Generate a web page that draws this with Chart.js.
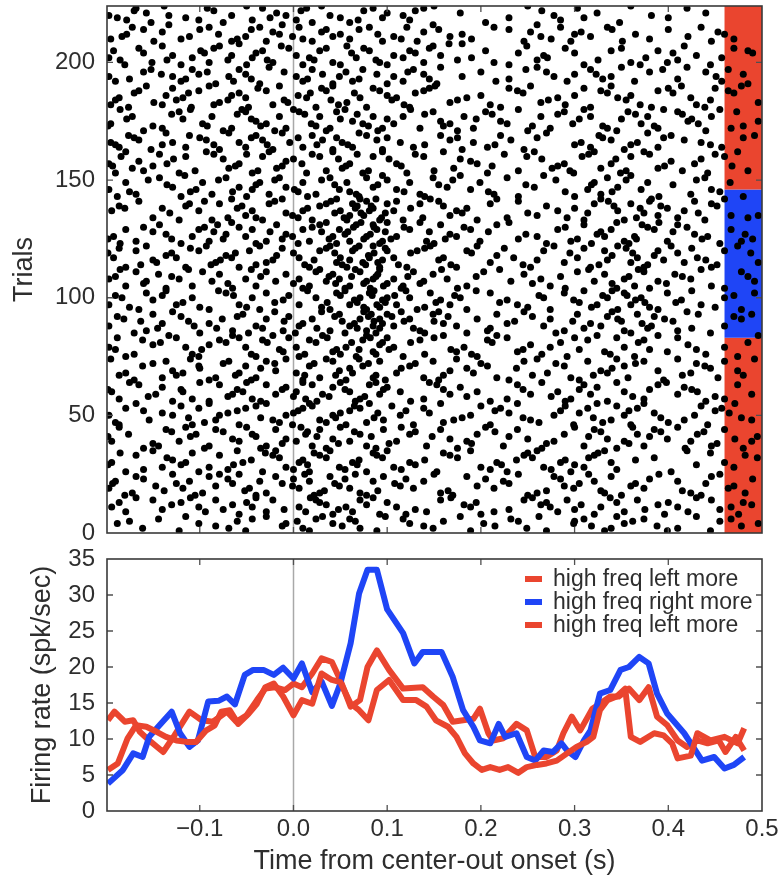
<!DOCTYPE html>
<html>
<head>
<meta charset="utf-8">
<title>Raster and firing rate</title>
<script src="https://cdn.jsdelivr.net/npm/chart.js@4.4.1/dist/chart.umd.min.js"></script>
<style>
  body { margin: 0; background: #fff; }
  #wrap { position: relative; width: 781px; height: 880px; }
  #rasterChart { position: absolute; left: 0; top: 0; }
  #rateChart { position: absolute; left: 0; top: 545px; }
</style>
</head>
<body>
<div id="wrap">
  <canvas id="rasterChart" width="781" height="545"></canvas>
  <canvas id="rateChart" width="781" height="335"></canvas>
</div>
<script>
// time window (s) and axis ticks
const xMin = -0.199;
const xMax = 0.5;
const timeTicks = [-0.1, 0.0, 0.1, 0.2, 0.3, 0.4, 0.5];
const timeTickLabels = ['\u22120.1', '0.0', '0.1', '0.2', '0.3', '0.4', '0.5'];
const trialMax = 224;
const trialTicks = [0, 50, 100, 150, 200];
const rateMax = 35;
const rateTicks = [0, 5, 10, 15, 20, 25, 30, 35];

// trial blocks sorted by condition (trial bounds) and the side with more high freq
const blockBounds = [0, 83, 146, 224];
const blockSide = ['left', 'right', 'left'];
const stripStart = 0.46;

// spike times (s), one row per trial: row i is trial i + 1
const spikeTimes = [
  [-0.122, -0.051, 0.017, 0.089, 0.189, 0.270, 0.332, 0.399, 0.445],
  [-0.161, -0.069, 0.010, 0.071, 0.149, 0.249, 0.339, 0.410],
  [-0.083, -0.012, 0.052, 0.139, 0.215, 0.318, 0.388, 0.478],
  [-0.188, -0.101, -0.008, 0.042, 0.124, 0.203, 0.299, 0.353, 0.496],
  [-0.175, -0.060, 0.004, 0.066, 0.160, 0.240, 0.300, 0.362, 0.455],
  [-0.144, -0.044, 0.024, 0.060, 0.117, 0.232, 0.310, 0.374, 0.467],
  [-0.115, -0.029, 0.031, 0.098, 0.178, 0.262, 0.345, 0.430],
  [-0.058, 0.042, 0.092, 0.120, 0.200, 0.321, 0.396, 0.475],
  [-0.179, -0.094, -0.029, 0.013, 0.063, 0.142, 0.214, 0.282, 0.353, 0.421],
  [-0.140, -0.075, -0.010, 0.048, 0.130, 0.230, 0.300, 0.375, 0.455],
  [-0.194, -0.101, -0.044, 0.006, 0.056, 0.110, 0.189, 0.274, 0.328, 0.410, 0.467],
  [-0.130, -0.065, 0.035, 0.078, 0.182, 0.264, 0.307, 0.389, 0.489],
  [-0.186, -0.120, -0.050, 0.028, 0.100, 0.195, 0.270, 0.345, 0.400, 0.480],
  [-0.150, -0.083, -0.022, 0.024, 0.071, 0.157, 0.246, 0.292, 0.367, 0.446],
  [-0.168, -0.110, -0.040, 0.018, 0.085, 0.168, 0.255, 0.338, 0.430],
  [-0.180, -0.105, -0.040, 0.022, 0.078, 0.170, 0.250, 0.350, 0.435],
  [-0.172, -0.097, -0.029, 0.028, 0.071, 0.157, 0.260, 0.332, 0.424, 0.482],
  [-0.138, -0.052, 0.033, 0.090, 0.165, 0.270, 0.328, 0.415],
  [-0.197, -0.118, -0.047, 0.006, 0.060, 0.128, 0.214, 0.299, 0.374, 0.464],
  [-0.147, -0.083, -0.001, 0.049, 0.114, 0.196, 0.289, 0.360, 0.470],
  [-0.193, -0.125, -0.065, -0.012, 0.044, 0.108, 0.230, 0.305, 0.365, 0.440],
  [-0.190, -0.111, -0.036, 0.017, 0.085, 0.139, 0.224, 0.321, 0.410],
  [-0.160, -0.070, 0.000, 0.055, 0.120, 0.205, 0.285, 0.380, 0.490],
  [-0.168, -0.090, -0.019, 0.039, 0.096, 0.185, 0.278, 0.339, 0.446],
  [-0.129, -0.079, -0.058, 0.012, 0.066, 0.150, 0.240, 0.315, 0.390, 0.455],
  [-0.179, -0.101, -0.033, 0.017, 0.078, 0.153, 0.228, 0.296, 0.403],
  [-0.160, -0.070, 0.000, 0.055, 0.115, 0.210, 0.275, 0.345],
  [-0.140, -0.090, -0.008, 0.049, 0.107, 0.200, 0.267, 0.310, 0.470],
  [-0.198, -0.120, -0.064, 0.015, 0.068, 0.130, 0.222, 0.300, 0.430],
  [-0.194, -0.115, -0.054, 0.006, 0.063, 0.124, 0.217, 0.285, 0.339, 0.460],
  [-0.129, -0.045, 0.010, 0.070, 0.140, 0.238, 0.290, 0.365],
  [-0.135, -0.015, 0.035, 0.095, 0.175, 0.255, 0.315, 0.385, 0.495],
  [-0.168, -0.079, -0.022, 0.028, 0.089, 0.167, 0.246, 0.321, 0.482],
  [-0.185, -0.108, -0.030, 0.022, 0.085, 0.160, 0.250, 0.325, 0.445],
  [-0.150, -0.060, -0.019, 0.039, 0.100, 0.189, 0.260, 0.332, 0.420],
  [-0.160, -0.095, -0.035, 0.035, 0.088, 0.175, 0.265, 0.345, 0.418, 0.480],
  [-0.144, -0.090, -0.029, 0.020, 0.078, 0.142, 0.224, 0.310, 0.374, 0.446],
  [-0.150, -0.012, 0.048, 0.102, 0.190, 0.270, 0.358, 0.452],
  [-0.194, -0.122, -0.058, 0.003, 0.060, 0.110, 0.185, 0.278, 0.353, 0.424, 0.489],
  [-0.065, -0.008, 0.042, 0.167, 0.250, 0.335, 0.399, 0.471],
  [-0.198, -0.110, -0.040, 0.025, 0.083, 0.148, 0.230, 0.315, 0.380, 0.495],
  [-0.176, -0.104, -0.044, 0.013, 0.071, 0.124, 0.196, 0.289, 0.367, 0.431],
  [-0.130, -0.075, 0.015, 0.065, 0.130, 0.215, 0.328, 0.392, 0.438],
  [-0.136, -0.083, -0.019, 0.028, 0.096, 0.157, 0.239, 0.321, 0.385, 0.460],
  [-0.186, -0.115, -0.050, 0.008, 0.050, 0.115, 0.205, 0.300, 0.362, 0.410],
  [-0.186, -0.108, -0.058, -0.001, 0.056, 0.128, 0.210, 0.299, 0.360, 0.442],
  [-0.190, -0.095, -0.015, 0.035, 0.078, 0.160, 0.262, 0.330, 0.400],
  [-0.154, -0.083, -0.022, 0.028, 0.096, 0.171, 0.253, 0.339, 0.417, 0.489],
  [-0.112, -0.035, 0.045, 0.086, 0.180, 0.245, 0.320, 0.392, 0.478],
  [-0.197, -0.129, -0.079, -0.008, 0.042, 0.114, 0.189, 0.278, 0.353, 0.428],
  [-0.140, -0.070, 0.000, 0.050, 0.090, 0.145, 0.230, 0.305, 0.385, 0.465],
  [-0.160, -0.060, 0.005, 0.060, 0.120, 0.215, 0.285, 0.358, 0.450],
  [-0.179, -0.101, -0.051, 0.010, 0.071, 0.139, 0.221, 0.314, 0.367, 0.457],
  [-0.120, -0.040, 0.020, 0.065, 0.105, 0.200, 0.290, 0.345, 0.435],
  [-0.168, -0.090, -0.029, 0.017, 0.081, 0.157, 0.239, 0.324, 0.374, 0.471],
  [-0.129, -0.090, -0.035, 0.025, 0.066, 0.125, 0.210, 0.290, 0.335, 0.440],
  [-0.186, -0.108, -0.044, 0.013, 0.071, 0.139, 0.228, 0.296, 0.374, 0.460],
  [-0.155, -0.070, 0.000, 0.038, 0.076, 0.185, 0.275, 0.362, 0.450],
  [-0.147, -0.065, -0.019, 0.031, 0.092, 0.167, 0.253, 0.317, 0.410, 0.489],
  [-0.194, -0.118, -0.054, 0.003, 0.060, 0.114, 0.196, 0.282, 0.353, 0.431],
  [-0.198, -0.120, -0.060, -0.012, 0.055, 0.096, 0.160, 0.245, 0.305, 0.380, 0.425],
  [-0.140, -0.008, 0.042, 0.100, 0.178, 0.324, 0.417],
  [-0.165, -0.079, -0.029, 0.020, 0.081, 0.153, 0.239, 0.310, 0.389, 0.474],
  [-0.175, -0.100, -0.050, 0.010, 0.050, 0.088, 0.145, 0.265, 0.345, 0.398],
  [-0.170, -0.090, -0.045, 0.010, 0.056, 0.098, 0.155, 0.230, 0.305, 0.395],
  [-0.140, -0.083, -0.040, 0.028, 0.085, 0.139, 0.217, 0.296, 0.357, 0.453],
  [-0.186, -0.125, -0.062, 0.012, 0.045, 0.088, 0.160, 0.255, 0.320, 0.415, 0.480],
  [-0.179, -0.118, -0.058, 0.003, 0.063, 0.110, 0.192, 0.271, 0.335, 0.424],
  [-0.129, -0.019, 0.049, 0.167, 0.328, 0.389, 0.474],
  [-0.100, -0.035, 0.060, 0.115, 0.185, 0.238, 0.340, 0.445],
  [-0.161, -0.101, -0.051, 0.017, 0.074, 0.124, 0.207, 0.289, 0.353, 0.439],
  [-0.150, -0.075, -0.020, 0.022, 0.080, 0.130, 0.200, 0.280, 0.365, 0.430],
  [-0.136, -0.069, -0.029, 0.042, 0.092, 0.149, 0.246, 0.314, 0.374, 0.460],
  [-0.195, -0.110, -0.008, 0.035, 0.070, 0.174, 0.260, 0.345, 0.410, 0.492],
  [-0.179, -0.101, -0.040, 0.006, 0.067, 0.117, 0.196, 0.292, 0.364, 0.474],
  [-0.170, -0.108, -0.045, 0.012, 0.050, 0.088, 0.140, 0.190, 0.265, 0.338, 0.440],
  [-0.011, 0.042, 0.085, 0.174, 0.239, 0.332, 0.399],
  [-0.190, -0.098, -0.015, 0.046, 0.070, 0.102, 0.168, 0.245, 0.305, 0.380, 0.430],
  [-0.197, -0.115, -0.051, 0.003, 0.056, 0.107, 0.182, 0.274, 0.353, 0.460],
  [-0.150, -0.090, 0.092, 0.253, 0.421],
  [-0.142, -0.072, -0.028, 0.024, 0.062, 0.095, 0.125, 0.212, 0.285, 0.368, 0.485],
  [-0.161, -0.079, -0.033, 0.017, 0.074, 0.135, 0.207, 0.314, 0.374],
  [-0.188, -0.125, -0.058, -0.005, 0.036, 0.082, 0.100, 0.150, 0.228, 0.300, 0.345, 0.410],
  [-0.133, -0.065, -0.022, 0.031, 0.078, 0.160, 0.217, 0.324, 0.389, 0.496],
  [-0.170, -0.100, -0.048, 0.002, 0.055, 0.088, 0.140, 0.185, 0.280, 0.360, 0.445],
  [-0.157, -0.065, -0.011, 0.039, 0.078, 0.135, 0.207, 0.289, 0.353, 0.410],
  [-0.145, -0.082, -0.033, 0.025, 0.068, 0.092, 0.128, 0.210, 0.310, 0.378, 0.425],
  [-0.197, -0.106, -0.040, 0.006, 0.060, 0.085, 0.107, 0.174, 0.267, 0.328, 0.382, 0.460],
  [-0.140, -0.090, 0.010, 0.065, 0.095, 0.160, 0.228, 0.317, 0.372],
  [-0.163, -0.112, -0.010, 0.052, 0.086, 0.118, 0.150, 0.236, 0.298, 0.350, 0.405],
  [-0.181, -0.076, -0.029, 0.020, 0.071, 0.092, 0.124, 0.196, 0.274, 0.346, 0.396, 0.478],
  [-0.188, -0.120, -0.060, -0.005, 0.044, 0.080, 0.105, 0.165, 0.255, 0.335, 0.385, 0.470],
  [-0.150, -0.054, 0.049, 0.083, 0.100, 0.149, 0.217, 0.303, 0.367, 0.432, 0.489],
  [-0.129, -0.020, 0.030, 0.075, 0.115, 0.155, 0.246, 0.340, 0.420],
  [-0.165, -0.090, -0.036, 0.039, 0.078, 0.132, 0.185, 0.274, 0.346, 0.389, 0.478],
  [-0.175, -0.100, -0.050, 0.030, 0.075, 0.092, 0.140, 0.250, 0.318, 0.380, 0.450],
  [-0.197, -0.125, -0.058, 0.006, 0.060, 0.089, 0.110, 0.167, 0.239, 0.324, 0.360, 0.435],
  [-0.118, -0.020, 0.036, 0.068, 0.098, 0.152, 0.220, 0.305, 0.375, 0.408],
  [-0.150, -0.011, 0.065, 0.095, 0.157, 0.228, 0.299, 0.365, 0.414],
  [-0.183, -0.108, -0.044, 0.024, 0.071, 0.100, 0.124, 0.178, 0.267, 0.335, 0.371, 0.460],
  [-0.190, -0.140, -0.064, -0.005, 0.050, 0.084, 0.108, 0.172, 0.262, 0.330, 0.356, 0.470],
  [-0.157, -0.072, -0.029, 0.046, 0.081, 0.146, 0.210, 0.289, 0.353, 0.399, 0.492],
  [-0.136, -0.080, 0.015, 0.055, 0.086, 0.120, 0.195, 0.310, 0.340, 0.425],
  [-0.136, -0.065, 0.010, 0.055, 0.082, 0.115, 0.175, 0.290, 0.345, 0.380, 0.460],
  [-0.179, -0.108, -0.040, 0.017, 0.060, 0.096, 0.117, 0.185, 0.274, 0.364, 0.446],
  [-0.160, -0.070, 0.000, 0.045, 0.075, 0.100, 0.135, 0.255, 0.340, 0.398],
  [-0.157, -0.087, -0.019, 0.035, 0.078, 0.139, 0.232, 0.321, 0.389, 0.492],
  [-0.197, -0.122, -0.051, 0.006, 0.049, 0.085, 0.107, 0.164, 0.264, 0.353, 0.424],
  [-0.190, -0.130, -0.035, 0.038, 0.062, 0.088, 0.122, 0.195, 0.285, 0.358, 0.415, 0.485],
  [-0.144, -0.079, -0.008, 0.042, 0.090, 0.149, 0.246, 0.332, 0.407],
  [-0.168, -0.097, -0.029, 0.024, 0.071, 0.128, 0.203, 0.303, 0.374, 0.478],
  [-0.185, -0.112, -0.045, 0.028, 0.066, 0.092, 0.158, 0.220, 0.315, 0.368, 0.435],
  [-0.179, -0.115, -0.058, 0.017, 0.057, 0.092, 0.121, 0.174, 0.253, 0.317, 0.374, 0.446],
  [-0.163, -0.088, -0.040, 0.012, 0.052, 0.077, 0.112, 0.168, 0.245, 0.326, 0.378, 0.452],
  [-0.146, -0.083, -0.029, 0.046, 0.074, 0.090, 0.210, 0.289, 0.360, 0.417, 0.496],
  [-0.150, -0.078, -0.022, 0.022, 0.060, 0.095, 0.155, 0.260, 0.335, 0.395, 0.440],
  [-0.192, -0.125, -0.066, 0.006, 0.050, 0.081, 0.107, 0.160, 0.235, 0.303, 0.367, 0.431],
  [-0.136, -0.072, -0.018, 0.080, 0.217, 0.340, 0.385],
  [-0.198, -0.130, -0.062, 0.000, 0.044, 0.086, 0.125, 0.190, 0.295, 0.362, 0.410, 0.488],
  [-0.168, -0.101, -0.047, 0.028, 0.063, 0.100, 0.132, 0.185, 0.267, 0.332, 0.389, 0.460],
  [-0.186, -0.110, -0.012, 0.035, 0.066, 0.098, 0.140, 0.225, 0.310, 0.355, 0.425],
  [-0.157, -0.093, -0.036, 0.039, 0.070, 0.085, 0.146, 0.196, 0.278, 0.346, 0.403, 0.474],
  [-0.185, -0.120, -0.040, 0.005, 0.046, 0.092, 0.150, 0.270, 0.318, 0.358, 0.455],
  [-0.168, -0.090, -0.029, 0.017, 0.060, 0.095, 0.142, 0.199, 0.296, 0.353, 0.399, 0.478],
  [-0.198, -0.130, -0.075, -0.012, 0.038, 0.075, 0.104, 0.162, 0.240, 0.303, 0.366, 0.436, 0.490],
  [-0.192, -0.108, -0.051, -0.001, 0.042, 0.078, 0.110, 0.174, 0.260, 0.332, 0.364, 0.442],
  [-0.136, -0.072, -0.008, 0.055, 0.082, 0.167, 0.248, 0.324, 0.428, 0.482],
  [-0.150, -0.085, -0.025, 0.030, 0.058, 0.098, 0.145, 0.208, 0.328, 0.405],
  [-0.179, -0.101, -0.044, 0.010, 0.049, 0.089, 0.124, 0.189, 0.282, 0.339, 0.385, 0.467],
  [-0.160, -0.095, -0.058, 0.020, 0.064, 0.086, 0.118, 0.182, 0.290, 0.378, 0.420],
  [-0.143, -0.081, -0.018, 0.028, 0.067, 0.085, 0.157, 0.217, 0.310, 0.372, 0.410],
  [-0.066, 0.035, 0.072, 0.100, 0.135, 0.230, 0.345, 0.390],
  [-0.122, -0.087, -0.033, 0.020, 0.057, 0.092, 0.117, 0.196, 0.310, 0.353, 0.439],
  [-0.150, -0.070, -0.040, 0.005, 0.054, 0.094, 0.138, 0.228, 0.292, 0.366, 0.410, 0.485],
  [-0.051, -0.001, 0.060, 0.075, 0.167, 0.260, 0.389, 0.467, 0.496],
  [-0.132, -0.008, 0.044, 0.072, 0.098, 0.180, 0.250, 0.314, 0.374, 0.432],
  [-0.194, -0.101, -0.044, 0.010, 0.050, 0.081, 0.107, 0.174, 0.282, 0.346, 0.417],
  [-0.180, -0.140, -0.060, 0.015, 0.066, 0.085, 0.125, 0.185, 0.300, 0.370, 0.399],
  [-0.186, -0.115, -0.055, 0.028, 0.068, 0.083, 0.160, 0.270, 0.342, 0.392, 0.452],
  [-0.111, -0.079, -0.026, 0.035, 0.063, 0.100, 0.135, 0.210, 0.321, 0.360, 0.446],
  [-0.165, -0.095, -0.020, 0.040, 0.078, 0.110, 0.155, 0.240, 0.336, 0.380, 0.428],
  [-0.066, -0.012, 0.046, 0.071, 0.088, 0.146, 0.217, 0.328, 0.382, 0.460],
  [-0.188, -0.120, -0.050, 0.015, 0.070, 0.140, 0.240, 0.300, 0.390, 0.480],
  [-0.168, -0.087, -0.026, 0.024, 0.067, 0.135, 0.214, 0.328, 0.424],
  [-0.175, -0.110, -0.065, 0.005, 0.060, 0.118, 0.208, 0.290, 0.340, 0.455],
  [-0.197, -0.104, -0.044, 0.001, 0.049, 0.110, 0.189, 0.314, 0.371, 0.446],
  [-0.129, -0.058, -0.008, 0.085, 0.164, 0.257, 0.346],
  [-0.135, -0.040, 0.044, 0.090, 0.155, 0.248, 0.318, 0.405],
  [-0.179, -0.097, -0.036, 0.010, 0.057, 0.124, 0.199, 0.321, 0.378, 0.466],
  [-0.155, -0.080, -0.020, 0.030, 0.100, 0.170, 0.280, 0.355, 0.430],
  [-0.143, -0.072, -0.015, 0.039, 0.078, 0.149, 0.228, 0.335, 0.439],
  [-0.116, 0.095, 0.178, 0.267, 0.360],
  [-0.190, -0.122, -0.044, 0.014, 0.074, 0.121, 0.207, 0.299, 0.349, 0.442],
  [-0.160, -0.105, -0.038, 0.035, 0.080, 0.150, 0.240, 0.295, 0.355, 0.415, 0.485],
  [-0.172, -0.069, -0.018, 0.052, 0.171, 0.276, 0.328, 0.389],
  [-0.193, -0.150, -0.062, -0.012, 0.056, 0.115, 0.212, 0.282, 0.396, 0.468],
  [-0.197, -0.135, -0.058, 0.009, 0.060, 0.110, 0.196, 0.289, 0.339, 0.428],
  [-0.165, -0.008, 0.189, 0.403],
  [-0.128, -0.075, 0.000, 0.048, 0.102, 0.178, 0.265, 0.344, 0.435],
  [-0.184, -0.115, -0.033, 0.028, 0.085, 0.139, 0.249, 0.308, 0.360, 0.460],
  [-0.143, -0.085, -0.050, 0.020, 0.068, 0.130, 0.225, 0.315, 0.380, 0.450],
  [-0.179, -0.093, -0.026, 0.042, 0.095, 0.160, 0.257, 0.321, 0.374, 0.474],
  [-0.152, -0.079, -0.022, 0.042, 0.095, 0.180, 0.246, 0.353],
  [-0.186, -0.115, -0.051, 0.010, 0.063, 0.128, 0.207, 0.317, 0.389, 0.457],
  [-0.190, -0.140, -0.085, -0.028, 0.025, 0.058, 0.140, 0.215, 0.300, 0.360, 0.445],
  [-0.195, -0.129, -0.058, -0.004, 0.052, 0.114, 0.192, 0.307, 0.367, 0.435],
  [-0.165, -0.093, -0.033, 0.031, 0.089, 0.167, 0.232, 0.339, 0.417],
  [-0.170, -0.100, -0.045, 0.005, 0.046, 0.100, 0.175, 0.260, 0.330, 0.395, 0.480],
  [-0.176, -0.111, -0.040, 0.020, 0.078, 0.157, 0.221, 0.326, 0.403, 0.492],
  [-0.136, -0.069, -0.012, 0.070, 0.270, 0.378],
  [-0.160, -0.075, -0.020, 0.035, 0.090, 0.175, 0.250, 0.345, 0.440],
  [-0.140, -0.066, -0.008, 0.039, 0.095, 0.135, 0.192, 0.274, 0.335, 0.389, 0.467],
  [-0.198, -0.150, -0.092, -0.035, 0.024, 0.080, 0.160, 0.255, 0.330, 0.385, 0.480],
  [-0.195, -0.097, -0.029, 0.019, 0.074, 0.107, 0.167, 0.228, 0.298, 0.371, 0.432],
  [-0.040, 0.063, 0.157, 0.221, 0.421, 0.496],
  [-0.178, -0.118, -0.045, 0.050, 0.100, 0.195, 0.305, 0.350, 0.425],
  [-0.172, -0.087, -0.015, 0.028, 0.085, 0.117, 0.182, 0.264, 0.317, 0.378, 0.446],
  [-0.130, -0.060, 0.012, 0.068, 0.140, 0.212, 0.282, 0.365, 0.415],
  [-0.122, -0.051, 0.006, 0.046, 0.149, 0.205, 0.289, 0.357, 0.410, 0.473],
  [-0.185, -0.110, -0.055, 0.000, 0.055, 0.125, 0.240, 0.310, 0.395, 0.455],
  [-0.176, -0.109, -0.048, 0.024, 0.078, 0.124, 0.221, 0.317, 0.382, 0.439],
  [-0.195, -0.140, -0.085, -0.022, 0.048, 0.118, 0.210, 0.290, 0.370, 0.430],
  [-0.149, -0.079, -0.006, 0.057, 0.167, 0.264, 0.496],
  [-0.190, -0.125, -0.070, -0.010, 0.040, 0.105, 0.175, 0.272, 0.355, 0.445],
  [-0.186, -0.118, -0.051, 0.014, 0.071, 0.110, 0.185, 0.282, 0.346, 0.424],
  [-0.136, -0.066, 0.005, 0.100, 0.200, 0.300, 0.360],
  [-0.170, -0.112, -0.058, 0.018, 0.065, 0.130, 0.245, 0.335, 0.405, 0.470],
  [-0.165, -0.101, -0.029, 0.035, 0.092, 0.139, 0.239, 0.328, 0.389, 0.464],
  [-0.129, -0.038, 0.030, 0.085, 0.145, 0.230, 0.310, 0.400, 0.450],
  [-0.157, -0.090, -0.015, 0.042, 0.151, 0.253, 0.339, 0.414, 0.478],
  [-0.083, -0.036, 0.042, 0.100, 0.153, 0.485],
  [-0.190, -0.120, -0.064, 0.010, 0.063, 0.117, 0.216, 0.292, 0.364, 0.457],
  [-0.175, -0.115, -0.045, 0.015, 0.070, 0.145, 0.230, 0.330, 0.410],
  [-0.197, -0.129, -0.069, 0.003, 0.049, 0.107, 0.180, 0.278, 0.339, 0.451],
  [-0.141, -0.101, -0.051, 0.031, 0.089, 0.139, 0.300, 0.323, 0.480],
  [-0.160, -0.092, -0.010, 0.056, 0.122, 0.200, 0.270, 0.380, 0.440],
  [-0.152, -0.108, -0.058, 0.020, 0.074, 0.128, 0.248, 0.317, 0.394, 0.464],
  [-0.026, 0.157, 0.260, 0.350, 0.420],
  [-0.180, -0.120, -0.050, 0.010, 0.050, 0.100, 0.230, 0.310, 0.370, 0.445],
  [-0.151, -0.090, -0.022, 0.042, 0.092, 0.139, 0.214, 0.360, 0.399],
  [-0.185, -0.135, -0.070, -0.028, 0.022, 0.088, 0.175, 0.260, 0.325, 0.410],
  [-0.197, -0.108, -0.044, 0.017, 0.067, 0.117, 0.190, 0.271, 0.376, 0.457],
  [-0.129, -0.066, 0.003, 0.107, 0.157, 0.267, 0.430],
  [-0.160, -0.095, -0.040, 0.062, 0.130, 0.240, 0.300, 0.405, 0.490],
  [-0.192, -0.099, -0.033, 0.028, 0.081, 0.124, 0.205, 0.339, 0.389, 0.485],
  [-0.165, -0.085, -0.005, 0.035, 0.075, 0.145, 0.290, 0.350, 0.470],
  [-0.140, -0.079, -0.013, 0.057, 0.149, 0.249, 0.417],
  [-0.058, 0.166, 0.180],
  [-0.149, -0.066, -0.029, 0.020, 0.095, 0.132, 0.246, 0.296, 0.351, 0.446],
  [-0.195, -0.120, -0.060, 0.010, 0.060, 0.115, 0.190, 0.275, 0.380, 0.470],
  [-0.183, -0.111, -0.051, -0.001, 0.042, 0.107, 0.167, 0.264, 0.317, 0.421],
  [-0.178, -0.080, -0.015, 0.050, 0.090, 0.180, 0.300, 0.365, 0.460],
  [-0.140, -0.022, 0.030, 0.139, 0.253, 0.307, 0.453],
  [-0.160, -0.100, -0.045, 0.035, 0.070, 0.155, 0.230, 0.340, 0.400],
  [-0.172, -0.090, -0.036, 0.006, 0.081, 0.121, 0.214, 0.285, 0.335, 0.435],
  [-0.133, -0.012, 0.149, 0.260],
  [-0.152, -0.075, 0.020, 0.060, 0.205, 0.348],
  [-0.178, -0.101, -0.044, 0.003, 0.069, 0.124, 0.285],
  [-0.188, -0.115, -0.025, 0.050, 0.095, 0.230, 0.310, 0.400],
  [-0.197, -0.133, -0.066, -0.008, 0.039, 0.117, 0.278, 0.382],
  [-0.157, -0.018, 0.100, 0.178, 0.324, 0.440],
  [-0.170, -0.085, 0.008, 0.075, 0.130, 0.265],
  [-0.168, -0.092, -0.033, 0.014, 0.085, 0.139, 0.303, 0.420],
  [-0.138, -0.050, 0.030, 0.150, 0.250, 0.360]
];

// smoothed firing rate (spk/sec) for each block, sampled at the listed times (s)
const leftATimes = [-0.198, -0.1875, -0.177, -0.168, -0.157, -0.146, -0.136, -0.125, -0.114, -0.104, -0.093, -0.084, -0.077, -0.068, -0.059, -0.048, -0.039, -0.030, -0.021, -0.011, 0.000, 0.009, 0.020, 0.030, 0.041, 0.050, 0.061, 0.070, 0.080, 0.089, 0.102, 0.117, 0.131, 0.142, 0.152, 0.165, 0.174, 0.183, 0.192, 0.201, 0.210, 0.220, 0.229, 0.240, 0.249, 0.260, 0.270, 0.281, 0.292, 0.302, 0.313, 0.320, 0.327, 0.335, 0.345, 0.354, 0.360, 0.370, 0.385, 0.395, 0.404, 0.410, 0.424, 0.431, 0.445, 0.460, 0.474, 0.481];
const leftARates = [5.7, 6.6, 10.1, 11.9, 11.7, 11.0, 10.3, 9.8, 9.6, 9.6, 11.2, 11.9, 13.8, 14.0, 12.1, 13.5, 14.9, 17.2, 17.7, 15.9, 13.3, 15.4, 14.9, 19.1, 18.2, 17.9, 14.9, 14.0, 12.6, 16.8, 18.2, 15.4, 15.4, 14.5, 12.6, 11.7, 10.3, 8.0, 6.6, 5.7, 6.1, 5.7, 6.1, 5.3, 6.1, 6.4, 6.6, 7.0, 8.0, 8.9, 9.6, 10.3, 14.0, 15.4, 15.9, 17.0, 10.3, 9.6, 10.8, 10.5, 9.4, 7.3, 7.7, 10.8, 9.8, 10.3, 9.4, 11.5];

const rightTimes = [-0.198, -0.182, -0.171, -0.161, -0.154, -0.143, -0.130, -0.121, -0.111, -0.102, -0.091, -0.080, -0.071, -0.0625, -0.052, -0.043, -0.032, -0.021, -0.011, 0.000, 0.009, 0.020, 0.030, 0.041, 0.050, 0.061, 0.070, 0.079, 0.089, 0.100, 0.117, 0.129, 0.138, 0.158, 0.170, 0.181, 0.192, 0.199, 0.210, 0.219, 0.226, 0.238, 0.249, 0.258, 0.267, 0.277, 0.286, 0.292, 0.301, 0.310, 0.317, 0.327, 0.338, 0.349, 0.358, 0.369, 0.379, 0.388, 0.399, 0.417, 0.436, 0.449, 0.460, 0.470, 0.481];
const rightRates = [3.8, 5.7, 8.0, 7.5, 10.3, 11.9, 13.8, 10.8, 8.9, 9.8, 15.2, 15.3, 15.9, 14.8, 18.9, 19.6, 19.6, 18.9, 19.9, 18.4, 20.5, 16.5, 18.0, 14.6, 17.7, 23.3, 30.2, 33.5, 33.5, 28.0, 24.7, 20.5, 22.1, 22.1, 18.6, 14.0, 11.7, 9.8, 9.4, 12.1, 10.3, 10.8, 7.5, 7.0, 8.4, 8.2, 9.4, 8.4, 7.5, 9.8, 11.2, 16.3, 16.8, 19.6, 20.0, 21.4, 20.5, 16.3, 13.5, 10.8, 7.0, 7.5, 5.9, 6.4, 7.5];

const leftBTimes = [-0.198, -0.191, -0.180, -0.171, -0.164, -0.154, -0.139, -0.127, -0.111, -0.098, -0.086, -0.071, -0.061, -0.050, -0.039, -0.030, -0.020, -0.009, 0.000, 0.009, 0.020, 0.030, 0.041, 0.050, 0.061, 0.071, 0.079, 0.089, 0.102, 0.117, 0.138, 0.149, 0.160, 0.170, 0.181, 0.192, 0.199, 0.208, 0.213, 0.224, 0.238, 0.249, 0.258, 0.270, 0.281, 0.288, 0.297, 0.306, 0.319, 0.327, 0.338, 0.347, 0.358, 0.369, 0.379, 0.388, 0.399, 0.410, 0.420, 0.431, 0.442, 0.454, 0.461, 0.472, 0.481];
const leftBRates = [12.6, 13.8, 12.4, 12.6, 11.0, 9.8, 8.2, 10.5, 13.8, 12.6, 12.4, 13.8, 12.4, 13.3, 15.4, 17.0, 17.2, 16.8, 17.7, 17.2, 19.1, 21.2, 20.7, 18.2, 14.5, 15.4, 20.0, 22.3, 19.6, 17.0, 17.2, 15.9, 14.7, 12.4, 12.6, 12.8, 14.2, 10.8, 9.8, 10.1, 12.1, 11.2, 7.5, 7.5, 8.4, 10.8, 13.1, 11.2, 14.2, 14.9, 15.9, 15.9, 17.0, 15.4, 17.2, 13.1, 11.9, 9.8, 8.9, 9.8, 9.4, 9.8, 8.2, 10.3, 8.4];

const legendLabels = {
  left: 'high freq left more',
  right: 'high freq right more'
};

// look
const RED = '#EA452F';
const BLUE = '#1F45F6';
const sideColor = { left: RED, right: BLUE };
const TEXT = '#2e2e2e';
Chart.defaults.font.family = '"Liberation Sans", Arial, Helvetica, sans-serif';
Chart.defaults.color = TEXT;

function pairUp(times, values) {
  return times.map(function(t, i) { return { x: t, y: values[i] }; });
}

// keep the plot box where the layout puts it (no room reserved for edge labels)
function noEdgePadding(scale) {
  scale.paddingTop = 0;
  scale.paddingBottom = 0;
  scale.paddingLeft = 0;
  scale.paddingRight = 0;
}

// boxed axes with inward ticks on all four sides, zero line, colour strips and legend
const framePlugin = {
  id: 'frame',
  beforeDatasetsDraw: function(chart, args, opts) {
    const a = chart.chartArea;
    const ctx = chart.ctx;
    const xs = chart.scales.x;
    const ys = chart.scales.y;
    ctx.save();
    if (opts.strips) {
      opts.strips.forEach(function(s) {
        const x0 = xs.getPixelForValue(s.from);
        const yTop = ys.getPixelForValue(s.hi);
        const yBot = ys.getPixelForValue(s.lo);
        ctx.fillStyle = s.color;
        ctx.fillRect(x0, yTop, a.right - x0, yBot - yTop);
      });
    }
    const zx = Math.round(xs.getPixelForValue(0)) + 0.5;
    ctx.strokeStyle = '#a9a9a9';
    ctx.lineWidth = 1.5;
    ctx.beginPath();
    ctx.moveTo(zx, a.top);
    ctx.lineTo(zx, a.bottom);
    ctx.stroke();
    ctx.restore();
  },
  afterDatasetsDraw: function(chart, args, opts) {
    const a = chart.chartArea;
    const ctx = chart.ctx;
    const xs = chart.scales.x;
    const ys = chart.scales.y;
    const tl = 6;
    ctx.save();
    ctx.strokeStyle = '#505050';
    ctx.lineWidth = 1.3;
    ctx.beginPath();
    opts.xTicks.forEach(function(v) {
      const px = xs.getPixelForValue(v);
      if (px <= a.left + 1 || px >= a.right - 1) return;
      ctx.moveTo(px, a.bottom); ctx.lineTo(px, a.bottom - tl);
      ctx.moveTo(px, a.top); ctx.lineTo(px, a.top + tl);
    });
    opts.yTicks.forEach(function(v) {
      const py = ys.getPixelForValue(v);
      if (py <= a.top + 1 || py >= a.bottom - 1) return;
      ctx.moveTo(a.left, py); ctx.lineTo(a.left + tl, py);
      ctx.moveTo(a.right, py); ctx.lineTo(a.right - tl, py);
    });
    ctx.stroke();
    ctx.strokeStyle = '#3a3a3a';
    ctx.lineWidth = 1.6;
    ctx.strokeRect(a.left, a.top, a.right - a.left, a.bottom - a.top);

    if (opts.legend) {
      ctx.font = '23px "Liberation Sans", Arial, sans-serif';
      ctx.textBaseline = 'middle';
      ctx.textAlign = 'left';
      chart.data.datasets.forEach(function(ds, i) {
        const y = a.top + 20 + i * 23;
        ctx.strokeStyle = ds.borderColor;
        ctx.lineWidth = 6;
        ctx.beginPath();
        ctx.moveTo(a.right - 237, y);
        ctx.lineTo(a.right - 220, y);
        ctx.stroke();
        ctx.fillStyle = TEXT;
        ctx.fillText(ds.label, a.right - 209, y + 1);
      });
    }
    ctx.restore();
  }
};

const tickFont = { size: 24 };
const titleFont = { size: 27 };

// raster of spikes per trial
const rasterPoints = [];
spikeTimes.forEach(function(row, i) {
  row.forEach(function(t) {
    rasterPoints.push({ x: t, y: i + 1 });
  });
});

const strips = [];
for (let b = 0; b < blockSide.length; b++) {
  strips.push({ from: stripStart, lo: blockBounds[b], hi: blockBounds[b + 1], color: sideColor[blockSide[b]] });
}

new Chart(document.getElementById('rasterChart'), {
  type: 'scatter',
  data: {
    datasets: [{
      data: rasterPoints,
      pointRadius: 3.5,
      pointBackgroundColor: '#000',
      pointBorderWidth: 0,
      clip: 0
    }]
  },
  options: {
    responsive: false,
    animation: false,
    events: [],
    layout: { padding: { left: 0, right: 19, top: 6, bottom: 12 } },
    plugins: {
      legend: { display: false },
      tooltip: { enabled: false },
      frame: { xTicks: timeTicks, yTicks: trialTicks, strips: strips }
    },
    scales: {
      x: { type: 'linear', display: false, min: xMin, max: xMax },
      y: {
        type: 'linear',
        min: 0,
        max: trialMax,
        afterFit: function(scale) { scale.width = 107; noEdgePadding(scale); },
        afterBuildTicks: function(scale) {
          scale.ticks = trialTicks.map(function(v) { return { value: v }; });
        },
        grid: { display: false, drawTicks: false },
        border: { display: false },
        ticks: { font: tickFont, color: TEXT, padding: 12 },
        title: { display: true, text: 'Trials', font: titleFont, color: TEXT, padding: { top: 8, bottom: 0 } }
      }
    }
  },
  plugins: [framePlugin]
});

// firing rate traces
new Chart(document.getElementById('rateChart'), {
  type: 'line',
  data: {
    datasets: [
      { label: legendLabels.left, data: pairUp(leftATimes, leftARates), borderColor: RED },
      { label: legendLabels.right, data: pairUp(rightTimes, rightRates), borderColor: BLUE },
      { label: legendLabels.left, data: pairUp(leftBTimes, leftBRates), borderColor: RED }
    ]
  },
  options: {
    responsive: false,
    animation: false,
    events: [],
    layout: { padding: { left: 0, right: 19, top: 14, bottom: 0 } },
    elements: {
      line: { borderWidth: 6, tension: 0, fill: false, borderJoinStyle: 'round', borderCapStyle: 'butt' },
      point: { radius: 0 }
    },
    plugins: {
      legend: { display: false },
      tooltip: { enabled: false },
      frame: { xTicks: timeTicks, yTicks: rateTicks, legend: true }
    },
    scales: {
      x: {
        type: 'linear',
        min: xMin,
        max: xMax,
        afterFit: function(scale) { scale.height = 69; noEdgePadding(scale); },
        afterBuildTicks: function(scale) {
          scale.ticks = timeTicks.map(function(v) { return { value: v }; });
        },
        grid: { display: false, drawTicks: false },
        border: { display: false },
        ticks: {
          font: tickFont,
          color: TEXT,
          padding: 4,
          maxRotation: 0,
          callback: function(value, index) { return timeTickLabels[index]; }
        },
        title: { display: true, text: 'Time from center-out onset (s)', font: titleFont, color: TEXT, padding: { top: 0, bottom: 2 } }
      },
      y: {
        type: 'linear',
        min: 0,
        max: rateMax,
        afterFit: function(scale) { scale.width = 107; noEdgePadding(scale); },
        afterBuildTicks: function(scale) {
          scale.ticks = rateTicks.map(function(v) { return { value: v }; });
        },
        grid: { display: false, drawTicks: false },
        border: { display: false },
        ticks: { font: tickFont, color: TEXT, padding: 12 },
        title: { display: true, text: 'Firing rate (spk/sec)', font: titleFont, color: TEXT, padding: { top: 26, bottom: 0 } }
      }
    }
  },
  plugins: [framePlugin]
});
</script>
</body>
</html>
